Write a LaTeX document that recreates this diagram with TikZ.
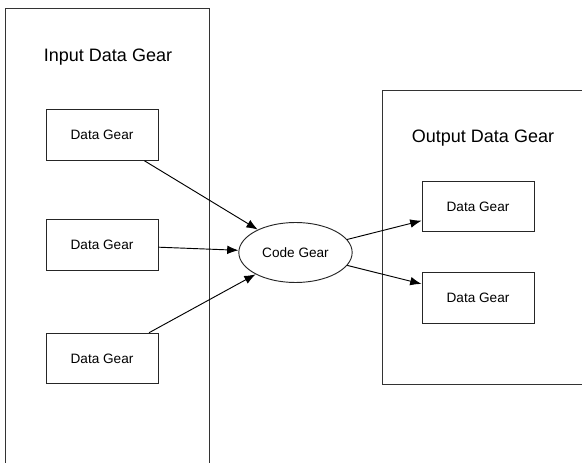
\documentclass[tikz,border=0pt]{standalone}
\usepackage{fontspec}
\setmainfont{Liberation Sans}
\usetikzlibrary{shapes.geometric, arrows.meta}
\tikzstyle{frame} = [rectangle, draw=black!80, line width=0.7pt, inner sep=0pt]
\tikzstyle{title} = [font=\fontsize{13.5}{16}\selectfont]
\tikzstyle{datagear} = [rectangle, draw=black!85, line width=0.7pt, minimum width=84pt, minimum height=38pt, inner sep=0pt, font=\fontsize{10.2}{12}\selectfont]
\tikzstyle{codegear} = [ellipse, draw=black!85, line width=0.7pt, minimum width=85pt, minimum height=45pt, inner sep=0pt, font=\fontsize{10.2}{12}\selectfont]
\tikzstyle{arrow} = [line width=0.7pt, -{Latex[length=8.5pt,width=6.5pt]}]

\begin{document}
\begin{tikzpicture}[x=0.75pt, y=-0.75pt]
        \clip (0,0) rectangle (582,463);
        \node [frame, minimum width=153pt, minimum height=369pt] at (107,254) (inframe) {};
        \node [frame, minimum width=163.5pt, minimum height=220.5pt] at (491,237) (outframe) {};
        \node [title] at (108,57) (intitle) {Input Data Gear};
        \node [title] at (483,138) (outtitle) {Output Data Gear};
        \node [datagear] at (102,135) (in1) {Data Gear};
        \node [datagear] at (102,245) (in2) {Data Gear};
        \node [datagear] at (102,358.5) (in3) {Data Gear};
        \node [codegear] at (295.5,252.5) (code) {Code Gear};
        \node [datagear] at (478,206.5) (out1) {Data Gear};
        \node [datagear] at (478,298) (out2) {Data Gear};
        \draw [arrow] (in1) -- (code);
        \draw [arrow] (in2) -- (code);
        \draw [arrow] (in3) -- (code);
        \draw [arrow] (code) -- (out1);
        \draw [arrow] (code) -- (out2);
\end{tikzpicture}
\end{document}
